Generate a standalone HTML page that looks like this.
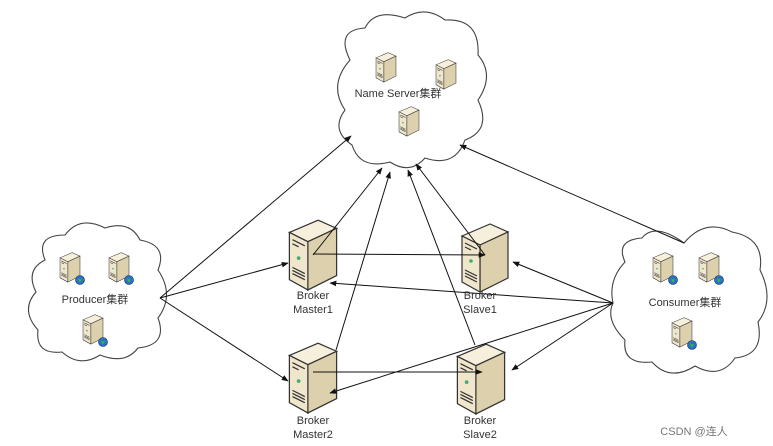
<!DOCTYPE html>
<html><head><meta charset="utf-8"><style>
html,body{margin:0;padding:0;background:#fff}
svg{display:block}
text{font-family:"Liberation Sans","Noto Sans CJK SC",sans-serif;fill:#333}
</style></head><body>
<svg width="773" height="446" viewBox="0 0 773 446" xmlns="http://www.w3.org/2000/svg">
<defs>
<marker id="a" viewBox="0 0 10 10" refX="9" refY="5" markerWidth="7" markerHeight="7" orient="auto"><path d="M0,1 L10,5 L0,9 z" fill="#111"/></marker>
<symbol id="srv" viewBox="0 0 50 76">
<path d="M2,18 L30,6 L48,14 L20,27 z" fill="#f6efdc" stroke="#333" stroke-width="1.2"/>
<path d="M20,27 L48,14 L48,60 L20,74 z" fill="#ddd0ac" stroke="#333" stroke-width="1.2"/>
<path d="M2,18 L20,27 L20,74 L2,64 z" fill="#efe6cc" stroke="#333" stroke-width="1.2"/>
<path d="M5,25 L17,31 M5,29 L11,32 M5,52 L17,58 M5,55 L17,61 M5,58 L17,64" stroke="#333" stroke-width="1.2"/>
<circle cx="11" cy="43" r="1.8" fill="#4a7"/>
</symbol>
<symbol id="gl" viewBox="0 0 10 10"><circle cx="5" cy="5" r="4.5" fill="#2a6fd0" stroke="#134" stroke-width=".6"/><path d="M3,3 Q5,5 7,4 Q6,7 4,7z" fill="#3b3"/></symbol>
</defs>
<g fill="#fff" stroke="#444" stroke-width="1.1">
<path d="M350,60 Q335,30 365,28 Q375,8 405,18 Q425,5 445,20 Q480,18 478,55 Q495,75 478,100 Q492,130 465,140 Q455,168 425,158 Q410,175 390,162 Q360,170 352,145 Q330,130 345,110 Q328,85 350,60 z"/>
<path d="M45,260 Q35,235 65,235 Q80,215 105,228 Q130,220 140,240 Q168,245 158,270 Q175,295 158,318 Q168,345 138,348 Q125,365 100,355 Q80,368 62,352 Q35,355 38,330 Q20,310 36,292 Q25,270 45,260 z"/>
<path d="M625,262 Q615,240 642,238 Q655,222 684,243 Q705,218 732,232 Q765,238 760,270 Q775,300 758,322 Q765,355 735,358 Q720,380 695,366 Q670,382 652,362 Q622,365 625,340 Q605,320 613,303 Q608,280 625,262 z"/>
</g>
<use href="#srv" x="287" y="214" width="52" height="78"/>
<use href="#srv" x="459" y="218" width="52" height="76"/>
<use href="#srv" x="287" y="337" width="52" height="78"/>
<use href="#srv" x="455" y="338" width="52" height="78"/>
<use href="#srv" x="375" y="50" width="22" height="33"/>
<use href="#srv" x="435" y="57" width="22" height="33"/>
<use href="#srv" x="398" y="104" width="22" height="33"/>
<use href="#srv" x="59" y="250" width="22" height="33"/><use href="#gl" x="75" y="275" width="10" height="10"/>
<use href="#srv" x="108" y="250" width="22" height="33"/><use href="#gl" x="124" y="275" width="10" height="10"/>
<use href="#srv" x="82" y="312" width="22" height="33"/><use href="#gl" x="98" y="337" width="10" height="10"/>
<use href="#srv" x="652" y="250" width="22" height="33"/><use href="#gl" x="668" y="275" width="10" height="10"/>
<use href="#srv" x="698" y="250" width="22" height="33"/><use href="#gl" x="714" y="275" width="10" height="10"/>
<use href="#srv" x="671" y="315" width="22" height="33"/><use href="#gl" x="687" y="340" width="10" height="10"/>
<g stroke="#111" stroke-width="1" fill="none" marker-end="url(#a)">
<line x1="160" y1="298" x2="351" y2="136"/>
<line x1="160" y1="298" x2="288" y2="263"/>
<line x1="160" y1="298" x2="288" y2="381"/>
<line x1="313" y1="255" x2="382" y2="168"/>
<line x1="336" y1="350" x2="390" y2="172"/>
<line x1="475" y1="345" x2="408" y2="170"/>
<line x1="485" y1="255" x2="416" y2="164"/>
<line x1="684" y1="243" x2="460" y2="145"/>
<line x1="313" y1="254" x2="485" y2="255"/>
<line x1="313" y1="372" x2="482" y2="372"/>
<line x1="613" y1="303" x2="513" y2="262"/>
<line x1="613" y1="303" x2="330" y2="283"/>
<line x1="613" y1="303" x2="330" y2="393"/>
<line x1="613" y1="303" x2="512" y2="370"/>
</g>
<g font-size="11" text-anchor="middle">
<text x="398" y="97">Name Server集群</text>
<text x="95" y="303">Producer集群</text>
<text x="685" y="306">Consumer集群</text>
<text x="313" y="299">Broker</text><text x="313" y="313">Master1</text>
<text x="480" y="299">Broker</text><text x="480" y="313">Slave1</text>
<text x="313" y="424">Broker</text><text x="313" y="438">Master2</text>
<text x="480" y="424">Broker</text><text x="480" y="438">Slave2</text>
<text x="694" y="435" style="fill:#777">CSDN @连人</text>
</g>
</svg>
</body></html>
